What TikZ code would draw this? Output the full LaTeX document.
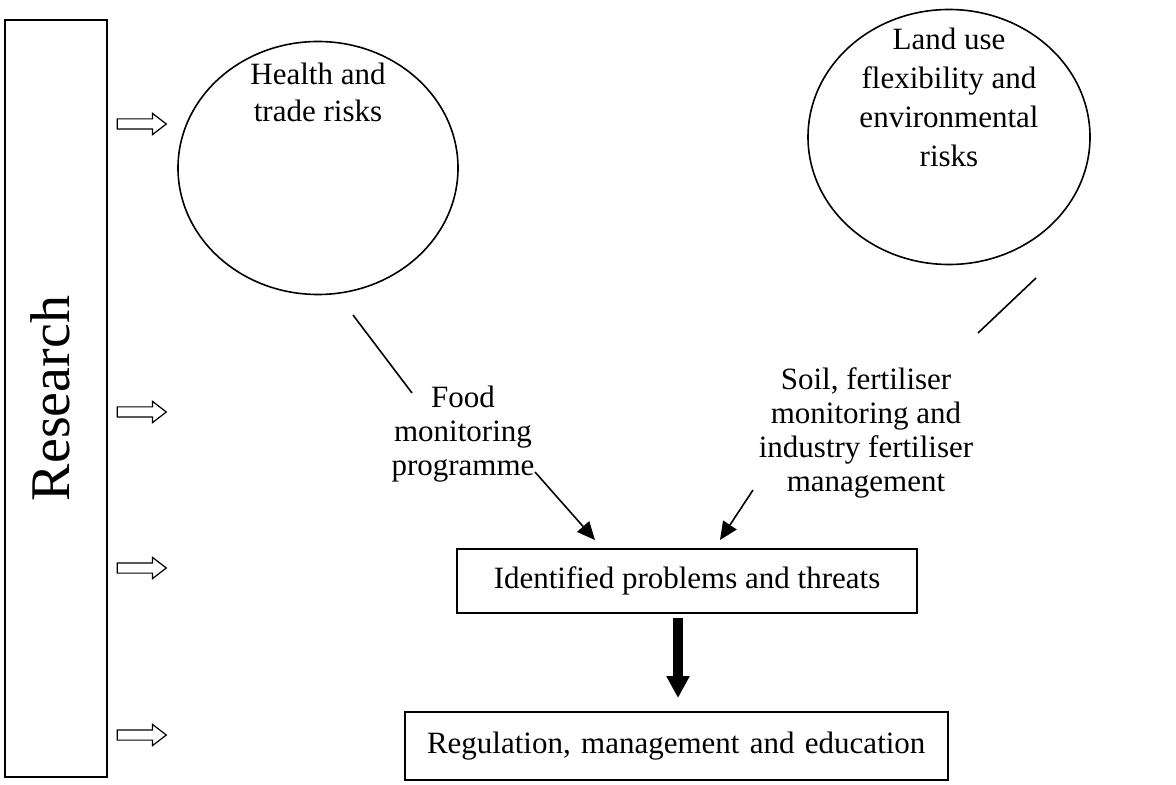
\documentclass[tikz,border=0pt]{standalone}
\usepackage{fontspec}
\setmainfont{Liberation Serif}
\usetikzlibrary{shapes.geometric,shapes.arrows,arrows.meta}

\tikzset{
  box/.style={draw, line width=0.8pt, rectangle, inner sep=0pt},
  blob/.style={draw, line width=0.8pt, ellipse, inner sep=0pt},
  txt/.style={align=center, font=\fontsize{15.5}{17}\selectfont},
  hollow/.style={draw, line width=0.6pt, single arrow, inner sep=2.25pt,
    single arrow head extend=2.75pt, single arrow tip angle=75,
    minimum height=24.5pt, minimum width=0pt},
  tip/.style={line width=0.8pt, -{Triangle[length=9pt,width=8pt]}}
}

\begin{document}
\begin{tikzpicture}[x=0.5pt, y=-0.5pt]
	\useasboundingbox (0,0) rectangle (1176,785);
	% left bar
	\node[box, minimum width=51pt, minimum height=378.5pt] (res) at (56,398.5) {};
	\node[rotate=90, font=\fontsize{28}{30}\selectfont] (restxt) at (50,398.5) {Research};
	\foreach \y/\n in {124/a, 412/b, 568/c, 735/d}
	  \node[hollow] (arr\n) at (138.5,\y) {};
	% risks
	\node[blob, minimum width=140pt, minimum height=126.5pt] (health) at (318,168) {};
	\node[txt, font=\fontsize{15.5}{18.5}\selectfont] (healthtxt) at (318,92) {Health and\\trade risks};
	\node[blob, minimum width=141pt, minimum height=127.5pt] (land) at (949,137) {};
	\node[txt, font=\fontsize{15.5}{19.5}\selectfont] (landtxt) at (949,97) {Land use\\flexibility and\\environmental\\risks};
	% monitoring
	\node[txt] (food) at (463,434) {Food\\monitoring\\programme};
	\node[txt] (soil) at (866,433) {Soil, fertiliser\\monitoring and\\industry fertiliser\\management};
	\coordinate (h1) at (353,315);
	\coordinate (h2) at (412,393);
	\coordinate (l1) at (1036,278);
	\coordinate (l2) at (978,333);
	\draw[line width=0.8pt] (h1) -- (h2);
	\draw[line width=0.8pt] (l1) -- (l2);
	% outcome
	\node[box, minimum width=230pt, minimum height=32pt, font=\fontsize{15.5}{17}\selectfont] (ident) at (687,581) {Identified problems and threats};
	\node[box, minimum width=271.5pt, minimum height=34pt, text width=249.5pt, inner xsep=11pt, align=left,
	  font=\fontsize{15.5}{17}\selectfont] (reg) at (676.5,746) {Regulation, management and education};
	\coordinate (f1) at (535,472);
	\coordinate (f2) at (595,540);
	\coordinate (s1) at (753,490);
	\coordinate (s2) at (720,540);
	\draw[tip] (f1) -- (f2);
	\draw[tip] (s1) -- (s2);
	\coordinate (d1) at (678,618);
	\coordinate (d2) at (678,698);
	\draw[line width=5pt, -{Triangle[length=11pt,width=11pt]}] (d1) -- (d2);
\end{tikzpicture}
\end{document}
